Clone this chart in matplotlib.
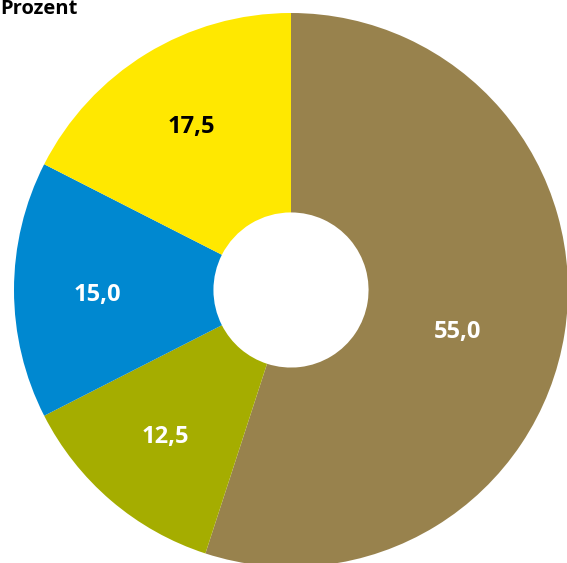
import numpy as np
import matplotlib.pyplot as plt

plt.rcParams['font.family'] = ['Open Sans', 'DejaVu Sans']

values = [55.0, 12.5, 15.0, 17.5]
labels = ['55,0', '12,5', '15,0', '17,5']
colors = ['#98824d', '#a5ad00', '#0088d0', '#ffe800']
text_colors = ['white', 'white', 'white', 'black']

fig = plt.figure(figsize=(5.67, 5.63), dpi=100)
ax = fig.add_axes([14 / 567, -4 / 563, 554 / 567, 554 / 563])

wedges, _ = ax.pie(values, colors=colors, startangle=90, counterclock=False,
                   radius=1, wedgeprops=dict(width=0.72, linewidth=0))

# label placement: distance from centre and small angle shift
label_r = [0.62, 0.70, 0.70, 0.69]
label_shift = [-5, 0, 1.5, 0]
for w, lab, tc, r, s in zip(wedges, labels, text_colors, label_r, label_shift):
    ang = np.deg2rad((w.theta1 + w.theta2) / 2 + s)
    ax.text(r * np.cos(ang), r * np.sin(ang), lab, ha='center', va='center',
            color=tc, fontsize=17, fontweight='bold')

ax.set_xlim(-1, 1)
ax.set_ylim(-1, 1)
ax.set_aspect('equal')
ax.axis('off')

fig.text(0, 1 - 14 / 563, 'Prozent', ha='left', va='baseline',
         fontsize=14.5, fontweight='bold')

fig.savefig('out.png', dpi=100)
